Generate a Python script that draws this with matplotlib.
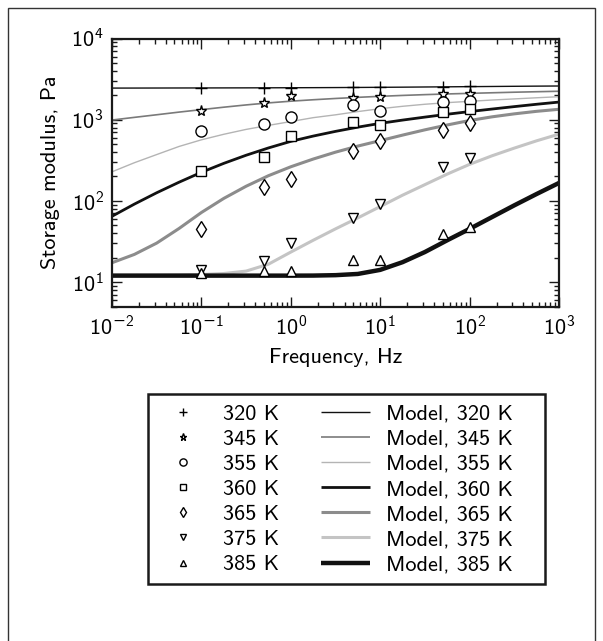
import numpy as np
import matplotlib
matplotlib.use("Agg")
import matplotlib.pyplot as plt
from matplotlib.patches import Rectangle
from matplotlib.ticker import FuncFormatter

plt.rcParams["font.family"] = ["cmss10", "DejaVu Sans"]
plt.rcParams["mathtext.fontset"] = "custom"
plt.rcParams["mathtext.rm"] = "cmss10"
plt.rcParams["mathtext.sf"] = "cmss10"
plt.rcParams["mathtext.it"] = "cmss10"
plt.rcParams["mathtext.bf"] = "cmss10"
plt.rcParams["mathtext.cal"] = "DejaVu Sans"
plt.rcParams["axes.formatter.use_mathtext"] = True
plt.rcParams["font.size"] = 16

# Measured storage modulus (Pa) at each test frequency (Hz)
freq_data = [0.1, 0.5, 1, 5, 10, 50, 100]
g_320 = [2460, 2470, 2480, 2510, 2520, 2560, 2570]
g_345 = [1280, 1610, 1970, 1840, 1890, 2050, 2060]
g_355 = [725, 875, 1065, 1500, 1280, 1640, 1720]
g_360 = [231, 343, 627, 929, 855, 1230, 1370]
g_365 = [45, 148, 185, 412, 552, 750, 910]
g_375 = [14.2, 18.4, 29.9, 61, 92, 260, 342]
g_385 = [12.8, 13.8, 13.8, 18.8, 18.8, 39, 47]

# Model predictions on a quarter-decade frequency grid
freq_model = np.logspace(-2, 3, 21)
model_320 = [2450, 2452, 2455, 2458, 2460, 2463, 2466, 2470, 2475, 2480, 2487,
             2495, 2505, 2515, 2528, 2540, 2553, 2565, 2578, 2590, 2600]
model_345 = [990, 1068, 1150, 1240, 1330, 1425, 1520, 1610, 1690, 1760, 1825,
             1885, 1940, 1990, 2035, 2075, 2110, 2145, 2180, 2210, 2240]
model_355 = [228, 295, 372, 468, 565, 661, 759, 851, 948, 1059, 1148,
             1259, 1365, 1462, 1549, 1622, 1683, 1746, 1803, 1862, 1919]
model_360 = [64.6, 91.2, 125.9, 169.8, 224.9, 289.7, 364.8, 448.7, 540.8, 628.1,
             717.8, 809.1, 901.6, 988.6, 1076, 1167, 1259, 1352, 1449, 1549, 1648]
model_365 = [17.3, 21.9, 30.2, 45.7, 71.9, 107.2, 151.4, 204.2, 263.0, 327.3,
             398.1, 473.2, 552.1, 645.7, 749.9, 861.0, 977.2, 1084, 1180, 1268, 1343]
model_375 = [12.16, 12.16, 12.19, 12.25, 12.39, 12.74, 13.65, 16.6, 23.4, 32.7,
             45.2, 61.7, 85.1, 117.5, 158.5, 213.8, 281.8, 358.9, 446.7, 549.5, 663.7]
model_385 = [12.0, 12.0, 12.0, 12.0, 12.0, 12.0, 12.0, 12.0, 12.0, 12.02,
             12.16, 12.59, 14.13, 17.58, 23.44, 32.73, 45.19, 63.10, 88.10, 121.6, 166.3]

temps = ["320 K", "345 K", "355 K", "360 K", "365 K", "375 K", "385 K"]
data_series = [g_320, g_345, g_355, g_360, g_365, g_375, g_385]
model_series = [model_320, model_345, model_355, model_360, model_365, model_375, model_385]

markers = ["+", "*", "o", "s", "d", "v", "^"]
marker_sizes = [8, 8, 8, 7.5, 8, 7.5, 7.5]
line_colors = ["#111111", "#7a7a7a", "#b4b4b4", "#111111", "#8c8c8c", "#c4c4c4", "#111111"]
line_widths = [1.0, 1.2, 1.0, 2.0, 2.2, 2.2, 3.2]

fig = plt.figure(figsize=(6.03, 6.41), dpi=100)
ax = fig.add_axes([112 / 603, 1 - 306.5 / 641, (559 - 112) / 603, (306.5 - 38.5) / 641])

model_handles = []
for label, ys, c, lw in zip(temps, model_series, line_colors, line_widths):
    h, = ax.plot(freq_model, ys, color=c, lw=lw, solid_capstyle="butt",
                 label="Model, " + label, zorder=2)
    model_handles.append(h)

data_handles = []
for label, ys, m, ms in zip(temps, data_series, markers, marker_sizes):
    h, = ax.plot(freq_data, ys, linestyle="none", marker=m, ms=ms,
                 mfc="white" if m != "+" else "black", mec="black", mew=1.0,
                 color="black", label=label, zorder=3)
    data_handles.append(h)

ax.set_xscale("log")
ax.set_yscale("log")
ax.set_xlim(1e-2, 1e3)
ax.set_ylim(5, 1e4)


def power_label(v, pos):
    e = int(round(np.log10(v)))
    if e < 0:
        return r"$10^{\mathcal{-}%d}$" % (-e)
    return r"$10^{%d}$" % e


ax.xaxis.set_major_formatter(FuncFormatter(power_label))
ax.yaxis.set_major_formatter(FuncFormatter(power_label))

ax.set_xlabel("Frequency, Hz", labelpad=6)
ax.set_ylabel("Storage modulus, Pa", labelpad=8)

for s in ax.spines.values():
    s.set_linewidth(1.6)
    s.set_color("#1a1a1a")
ax.tick_params(which="both", direction="in", top=True, right=True, width=1.0,
               color="#1a1a1a")
ax.tick_params(which="major", length=7.5, pad=6, labelsize=16)
ax.tick_params(which="minor", length=3.8)

# trailing spaces on the right column widen the frame on that side
leg = fig.legend(data_handles + model_handles,
                 [h.get_label() for h in data_handles] +
                 [h.get_label() + "   " for h in model_handles],
                 ncol=2, loc="upper center",
                 bbox_to_anchor=(346.5 / 603, 1 - 383 / 641),
                 fancybox=False, framealpha=1, edgecolor="#1a1a1a",
                 handlelength=2.2, handletextpad=0.7, columnspacing=1.9,
                 labelspacing=0.25, borderpad=0.45, markerscale=0.65,
                 fontsize=16)
leg.get_frame().set_linewidth(1.8)

fig.patches.append(Rectangle((8 / 603, -0.02), (595 - 8) / 603, 1.02 - 8 / 641,
                             transform=fig.transFigure, fill=False,
                             edgecolor="#333333", linewidth=1.0))

fig.savefig("out.png", dpi=100)
